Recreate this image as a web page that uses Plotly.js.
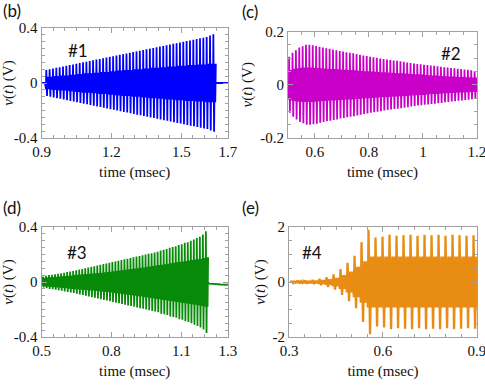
<!DOCTYPE html>
<html>
<head>
<meta charset="utf-8">
<script src="https://cdn.plot.ly/plotly-3.0.1.min.js"></script>
<style>
  body { margin: 0; background: #fff; }
  #chart { width: 485px; height: 388px; }
</style>
</head>
<body>
<div id="chart"></div>
<script>
// first and last spike time (msec) of each record
const spanT1 = [0.919, 1.636];
const spanT2 = [0.503, 1.19];
const spanT3 = [0.505, 1.204];
const spanT4 = [0.3057, 0.8868];

// spike amplitude (V), one value per oscillation cycle
const amp1 = [0.095,0.10,0.105,0.11,0.115,0.12,0.125,0.13,0.135,0.14,
  0.145,0.15,0.155,0.16,0.165,0.17,0.175,0.18,0.185,0.19,
  0.195,0.20,0.205,0.21,0.215,0.22,0.225,0.23,0.235,0.24,
  0.245,0.25,0.255,0.26,0.265,0.27,0.275,0.28,0.285,0.29,
  0.295,0.30,0.305,0.31,0.315,0.32,0.325,0.33,0.335,0.345,0.355];
const band1 = [0.045,0.045,0.05,0.05,0.055,0.055,0.055,0.06,0.06,0.065,
  0.065,0.07,0.07,0.07,0.075,0.075,0.08,0.08,0.08,0.085,
  0.085,0.09,0.09,0.095,0.095,0.095,0.10,0.10,0.10,0.105,
  0.105,0.11,0.11,0.11,0.115,0.115,0.12,0.12,0.12,0.125,
  0.125,0.125,0.13,0.13,0.13,0.135,0.135,0.135,0.14,0.14,0.14];

const amp2 = [0.105,0.12,0.13,0.14,0.145,0.15,0.15,0.148,0.146,0.143,
  0.14,0.137,0.135,0.132,0.13,0.127,0.125,0.122,0.12,0.118,
  0.115,0.113,0.11,0.108,0.105,0.103,0.101,0.099,0.097,0.095,
  0.093,0.091,0.09,0.088,0.086,0.084,0.082,0.08,0.078,0.077,
  0.075,0.074,0.072,0.071,0.069,0.068,0.066,0.065,0.063,0.062,
  0.06,0.059,0.057,0.056,0.054,0.052];
const band2 = [0.055,0.06,0.062,0.064,0.065,0.065,0.065,0.064,0.063,0.062,0.061,
  0.06,0.059,0.059,0.058,0.057,0.056,0.055,0.055,0.054,0.053,
  0.052,0.051,0.051,0.05,0.049,0.048,0.047,0.047,0.046,0.045,
  0.044,0.043,0.043,0.042,0.041,0.04,0.039,0.039,0.038,0.037,
  0.036,0.035,0.035,0.034,0.033,0.032,0.031,0.031,0.03,0.029,
  0.029,0.028,0.028,0.027,0.027];

const amp3 = [0.04,0.045,0.05,0.053,0.056,0.06,0.064,0.068,0.072,0.076,
  0.08,0.085,0.09,0.095,0.10,0.105,0.11,0.115,0.12,0.125,
  0.13,0.135,0.14,0.145,0.15,0.155,0.16,0.165,0.17,0.175,
  0.18,0.185,0.19,0.195,0.20,0.205,0.21,0.215,0.22,0.23,
  0.235,0.24,0.25,0.255,0.26,0.27,0.275,0.285,0.29,0.30,
  0.31,0.32,0.33,0.345,0.37];
const band3 = [0.03,0.032,0.034,0.036,0.038,0.04,0.042,0.044,0.046,0.048,
  0.05,0.052,0.054,0.056,0.058,0.06,0.062,0.064,0.066,0.068,
  0.07,0.072,0.075,0.078,0.08,0.083,0.086,0.089,0.092,0.095,
  0.098,0.10,0.103,0.106,0.11,0.113,0.116,0.12,0.123,0.126,
  0.13,0.133,0.136,0.14,0.143,0.146,0.15,0.153,0.156,0.16,
  0.163,0.166,0.17,0.175,0.18];

const amp4 = [0.04,0.05,0.06,0.08,0.12,0.18,0.28,0.47,0.7,0.95,1.45,1.9,
  1.62,1.65,1.72,1.68,1.7,1.72,1.68,1.72,1.7,1.72,1.68,1.72,1.7,1.68,1.7];
const band4 = [0.02,0.03,0.04,0.05,0.07,0.1,0.15,0.25,0.38,0.55,0.75,0.93,
  0.93,0.93,0.93,0.93,0.93,0.93,0.93,0.93,0.93,0.93,0.93,0.93,0.93,0.93,0.93];

// quiet parts before / after the oscillation
const head1T = [0.9, 0.915], head1V = [0, 0];
const tail1T = [1.642, 1.7], tail1V = [0, 0];
const tail3T = [1.208, 1.214, 1.222, 1.24, 1.27, 1.3];
const tail3V = [0.02, -0.005, -0.012, -0.016, -0.018, -0.02];

const colores = ["#0000ff", "#c800c8", "#078a07", "#e88c14"];
const grosor = [1.8, 1.8, 1.8, 2.3];

// one cycle = tall spike down to -amp, then ringing inside the band
const subPos = [0, 0.1, 0.32, 0.5, 0.67, 0.84];

function armarSenal(span, amp, band, headT, headV, tailT, tailV) {
    const n = amp.length;
    const P = (span[1] - span[0]) / (n - 1);
    let x = [], y = [];
    if (headT) { x.push(...headT); y.push(...headV); }
    for (let k = 0; k < n; k++) {
        const t = span[0] + k * P;
        const vals = [-band[k], amp[k], -amp[k], band[k], -band[k], band[k]];
        subPos.forEach((f, j) => { x.push(t + f * P); y.push(vals[j]); });
    }
    if (tailT) { x.push(...tailT); y.push(...tailV); }
    return { x, y };
}

const s1 = armarSenal(spanT1, amp1, band1, head1T, head1V, tail1T, tail1V);
const s2 = armarSenal(spanT2, amp2, band2);
const s3 = armarSenal(spanT3, amp3, band3, null, null, tail3T, tail3V);
const s4 = armarSenal(spanT4, amp4, band4);

const traces = [s1, s2, s3, s4].map((s, i) => ({
    x: s.x, y: s.y, type: "scatter", mode: "lines",
    line: { color: colores[i], width: grosor[i] },
    xaxis: i === 0 ? "x" : "x" + (i + 1),
    yaxis: i === 0 ? "y" : "y" + (i + 1),
    hoverinfo: "skip", showlegend: false
}));

const gris = "#a0a0a0";
const serif = "Liberation Serif";

function ejeX(dom, rango, vals, anchor) {
    return {
        domain: dom, range: rango, anchor: anchor,
        tickvals: vals, ticktext: vals.map(String),
        ticklabeloverflow: "allow",
        showline: true, mirror: "ticks", linecolor: gris, linewidth: 1,
        ticks: "inside", ticklen: 5, tickcolor: gris,
        minor: { ticks: "inside", ticklen: 3, dtick: 0.05, tickcolor: gris },
        showgrid: false, zeroline: false,
        tickfont: { family: serif, size: 15, color: "#111" },
        title: { text: "time (msec)", font: { family: serif, size: 15, color: "#111" }, standoff: 7 }
    };
}

function ejeY(dom, rango, vals, texto, menor, anchor) {
    return {
        domain: dom, range: rango, anchor: anchor,
        tickvals: vals, ticktext: texto,
        showline: true, mirror: "ticks", linecolor: gris, linewidth: 1,
        ticks: "inside", ticklen: 5, tickcolor: gris,
        minor: { ticks: "inside", ticklen: 3, dtick: menor, tickcolor: gris },
        showgrid: false, zeroline: false,
        tickfont: { family: serif, size: 15, color: "#111" },
        title: { text: "<i>v</i>(<i>t</i>) (V)", font: { family: serif, size: 15, color: "#111" }, standoff: 3 }
    };
}

const sans = "Lato";
function etiqueta(texto, x, y) {
    return { text: texto, x: x, y: y, xref: "paper", yref: "paper",
        xanchor: "center", yanchor: "middle", showarrow: false,
        font: { family: sans, size: 17, color: "#111" } };
}

const layout = {
    width: 485, height: 388,
    margin: { l: 0, r: 0, t: 0, b: 0 },
    paper_bgcolor: "#fff", plot_bgcolor: "#fff",
    xaxis: ejeX([0.0856, 0.470], [0.9, 1.7001], [0.9, 1.2, 1.5, 1.7], "y"),
    yaxis: ejeY([0.6443, 0.9278], [-0.4, 0.4], [-0.4, 0, 0.4], ["-0.4", "0", "0.4"], 0.05, "x"),
    xaxis2: ejeX([0.5938, 0.9835], [0.5, 1.2001], [0.6, 0.8, 1, 1.2], "y2"),
    yaxis2: ejeY([0.6443, 0.9188], [-0.2, 0.2], [-0.2, 0, 0.2], ["-0.2", "0", "0.2"], 0.05, "x2"),
    xaxis3: ejeX([0.0856, 0.470], [0.5, 1.3001], [0.5, 0.8, 1.1, 1.3], "y3"),
    yaxis3: ejeY([0.1314, 0.4149], [-0.4, 0.4], [-0.4, 0, 0.4], ["-0.4", "0", "0.4"], 0.05, "x3"),
    xaxis4: ejeX([0.5959, 0.9835], [0.3, 0.9001], [0.3, 0.6, 0.9], "y4"),
    yaxis4: ejeY([0.1314, 0.4149], [-2, 2], [-2, 0, 2], ["-2", "0", "2"], 0.5, "x4"),
    annotations: [
        etiqueta("(b)", 0.025, 0.974),
        etiqueta("(c)", 0.516, 0.970),
        etiqueta("(d)", 0.025, 0.465),
        etiqueta("(e)", 0.516, 0.465),
        etiqueta("#1", 0.160, 0.869),
        etiqueta("#2", 0.930, 0.862),
        etiqueta("#3", 0.159, 0.348),
        etiqueta("#4", 0.644, 0.350)
    ]
};

Plotly.newPlot("chart", traces, layout, { displayModeBar: false, staticPlot: true });
</script>
</body>
</html>
